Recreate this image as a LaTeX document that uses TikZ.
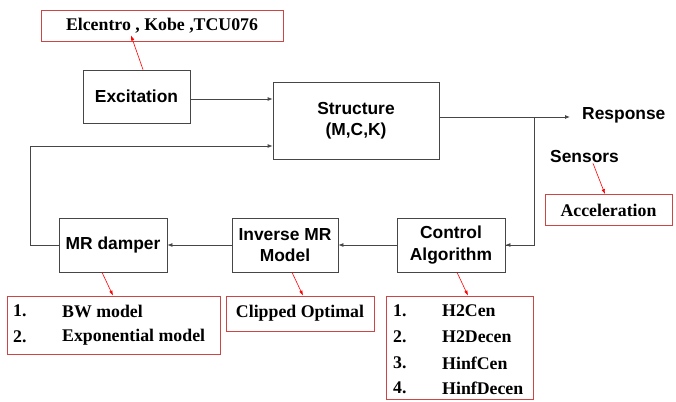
\documentclass[tikz,border=0pt]{standalone}
\usepackage{fontspec}
\setmainfont{Liberation Serif}
\newfontfamily\arialf{Liberation Sans}
\usetikzlibrary{arrows.meta}
\definecolor{boxred}{RGB}{205,70,70}
\definecolor{linegray}{RGB}{70,70,70}
\tikzset{
  blk/.style={draw=linegray,line width=0.8pt,inner sep=0pt,align=center,
    font=\arialf\bfseries\fontsize{17.4}{21.5}\selectfont},
  redbox/.style={draw=boxred,line width=0.8pt,inner sep=0pt,
    font=\bfseries\fontsize{17.8}{20}\selectfont},
  conn/.style={draw=linegray,line width=0.8pt,-{Latex[length=5pt,width=4pt]}},
  redarr/.style={draw=red,line width=0.6pt,-{Latex[length=5pt,width=3.5pt]}},
  plain/.style={inner sep=0pt,font=\arialf\bfseries\fontsize{17.4}{21}\selectfont},
  lbl/.style={inner sep=0pt,anchor=west,font=\bfseries\fontsize{17.8}{20}\selectfont}
}
\begin{document}
\begin{tikzpicture}[x=1pt,y=-1pt]
\useasboundingbox (0,0) rectangle (676,401);
% black blocks
\node[blk,minimum width=107pt,minimum height=53pt] (exc) at (136.5,96.5) {Excitation};
\node[blk,minimum width=166pt,minimum height=77pt] (str) at (356,120.5) {Structure\\(M,C,K)};
\node[blk,minimum width=108pt,minimum height=54pt] (mr) at (113,245) {MR damper};
\node[blk,minimum width=106pt,minimum height=54pt] (inv) at (285,245) {Inverse MR\\Model};
\node[blk,minimum width=108pt,minimum height=54pt] (ctl) at (451,245) {Control\\Algorithm};
% red boxes
\node[redbox,minimum width=242pt,minimum height=31pt] (elc) at (162,25.5) {Elcentro , Kobe ,TCU076};
\node[redbox,minimum width=127pt,minimum height=31pt] (acc) at (608.5,210) {Acceleration};
\node[redbox,minimum width=213pt,minimum height=58pt] (bw) at (113.5,325) {};
\node[redbox,minimum width=148pt,minimum height=35pt] (clp) at (300,313.5) {Clipped Optimal};
\node[redbox,minimum width=147pt,minimum height=103pt] (hl) at (459.5,347.5) {};
% list texts
\node[lbl] (bw1n) at (13,311) {1.};
\node[lbl] (bw1) at (62,311) {BW model};
\node[lbl] (bw2n) at (13,337) {2.};
\node[lbl] (bw2) at (62,337) {Exponential model};
\node[lbl] (h1n) at (393,311) {1.};
\node[lbl] (h1) at (442,311) {H2Cen};
\node[lbl] (h2n) at (393,337) {2.};
\node[lbl] (h2) at (442,337) {H2Decen};
\node[lbl] (h3n) at (393,363) {3.};
\node[lbl] (h3) at (442,363) {HinfCen};
\node[lbl] (h4n) at (393,388) {4.};
\node[lbl] (h4) at (442,388) {HinfDecen};
% free labels
\node[plain,anchor=west] (resp) at (582,115) {Response};
\node[plain] (sens) at (584.5,157) {Sensors};
% coordinates
\coordinate (fb) at (30,146);
\coordinate (r) at (570,117);
\coordinate (br) at (534,117);
% connectors
\draw[conn] (exc.east |- 0,99) -- (str.west |- 0,99);
\draw[conn] (mr.west) -| (fb) -- (fb -| str.west);
\draw[conn] (r -| str.east) -- (r);
\draw[conn,-] (br) |- (ctl.east);
\draw[conn] (br |- ctl.east) -- (ctl.east);
\draw[conn] (ctl.west) -- (inv.east);
\draw[conn] (inv.west) -- (mr.east);
% red arrows
\draw[redarr] ([xshift=6.5pt]exc.north) -- ([xshift=-31pt,yshift=6pt]elc.south);
\draw[redarr] ([xshift=-11pt]mr.south) -- ([xshift=-0.5pt]bw.north);
\draw[redarr] ([xshift=7pt]inv.south) -- ([xshift=3pt]clp.north);
\draw[redarr] ([xshift=6pt]ctl.south) -- ([xshift=8.5pt]hl.north);
\draw[redarr] ([xshift=8.5pt]sens.south) -- ([xshift=-3.5pt]acc.north);
\end{tikzpicture}
\end{document}
